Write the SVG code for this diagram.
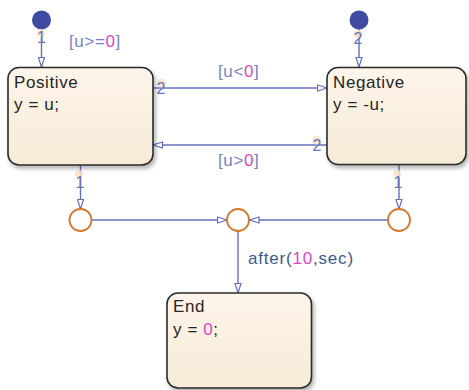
<svg xmlns="http://www.w3.org/2000/svg" width="469" height="390" viewBox="0 0 469 390">
<style>
  .state rect { fill: url(#sg); stroke: #2b2b2b; stroke-width: 1.6; filter: url(#sh); }
  .st { font-family: "Liberation Sans", Arial, sans-serif; font-size: 17px; letter-spacing: 0.6px; fill: #262626; }
  .lbl { font-family: "Liberation Sans", Arial, sans-serif; font-size: 17px; letter-spacing: 0.6px; fill: #7a7fc6; }
  .lbl2 { font-family: "Liberation Sans", Arial, sans-serif; font-size: 17px; letter-spacing: 0.8px; fill: #3d5a8e; }
  .num { font-family: "Liberation Sans", Arial, sans-serif; font-size: 16px; fill: #6a73bb; text-anchor: middle; }
  .mag { fill: #dd45c6; }
  .conn { stroke: #6470bb; stroke-width: 1.4; fill: none; }
  .arr { marker-end: url(#ah); }
  .junc { fill: #ffffff; stroke: #d3782e; stroke-width: 1.8; }
  .dot { fill: #3f4ba0; }
  .bg { fill: #fce3c6; opacity: 0.85; }
</style>
<defs>
  <linearGradient id="sg" x1="0" y1="0" x2="0" y2="1">
    <stop offset="0" stop-color="#fdf5ea"/>
    <stop offset="1" stop-color="#f7ebd7"/>
  </linearGradient>
  <filter id="sh" x="-10%" y="-10%" width="125%" height="130%">
    <feDropShadow dx="2" dy="3" stdDeviation="2" flood-color="#000" flood-opacity="0.3"/>
  </filter>
  <marker id="ah" viewBox="0 0 11 8" refX="10.5" refY="4" markerWidth="11" markerHeight="8" markerUnits="userSpaceOnUse" orient="auto">
    <path d="M1,1 L10.5,4 L1,7 Z" fill="#ffffff" stroke="#6470bb" stroke-width="1.2"/>
  </marker>
</defs>

<g id="connectors">
  <circle class="dot" cx="41.5" cy="20" r="9.5"/>
  <circle class="dot" cx="359" cy="20" r="9.5"/>
  <line class="conn arr" x1="41.5" y1="29" x2="41.5" y2="67"/>
  <line class="conn arr" x1="359" y1="29" x2="359" y2="67"/>
  <line class="conn arr" x1="153" y1="88" x2="327" y2="88"/>
  <line class="conn arr" x1="327" y1="145" x2="153" y2="145"/>
  <line class="conn arr" x1="80.5" y1="165" x2="80.5" y2="209"/>
  <line class="conn arr" x1="399" y1="165" x2="399" y2="209"/>
  <line class="conn arr" x1="92" y1="220" x2="227" y2="220"/>
  <line class="conn arr" x1="387.5" y1="220" x2="249.5" y2="220"/>
  <line class="conn arr" x1="238" y1="231" x2="238" y2="293"/>

  <circle class="bg" cx="41" cy="33" r="4"/>
  <text class="num" x="41.5" y="43">1</text>
  <circle class="bg" cx="358" cy="34" r="4"/>
  <text class="num" x="358" y="44">2</text>
  <text class="lbl" x="69" y="47">[u&gt;=<tspan class="mag">0</tspan>]</text>

  <circle class="bg" cx="162" cy="83" r="4.5"/>
  <text class="num" x="161" y="94">2</text>
  <text class="lbl" x="218" y="77">[u&lt;<tspan class="mag">0</tspan>]</text>

  <circle class="bg" cx="317" cy="140" r="4.5"/>
  <text class="num" x="317" y="151">2</text>
  <text class="lbl" x="218" y="166">[u&gt;<tspan class="mag">0</tspan>]</text>

  <circle class="bg" cx="79" cy="174" r="4"/>
  <text class="num" x="80" y="188">1</text>
  <circle class="bg" cx="397" cy="174" r="4"/>
  <text class="num" x="398" y="188">1</text>

  <text class="lbl2" x="248" y="264">after(<tspan class="mag">10</tspan>,sec)</text>
</g>

<g id="j1"><circle class="junc" cx="80.5" cy="220" r="11"/></g>
<g id="j2"><circle class="junc" cx="238" cy="220" r="11"/></g>
<g id="j3"><circle class="junc" cx="399" cy="220" r="11"/></g>

<g id="Positive" class="state">
  <rect x="8" y="67.5" width="145" height="97.5" rx="11"/>
  <text class="st" x="14" y="88">Positive</text>
  <text class="st" x="14" y="110">y = u;</text>
</g>

<g id="Negative" class="state">
  <rect x="327" y="67.5" width="139" height="97" rx="11"/>
  <text class="st" x="333" y="88">Negative</text>
  <text class="st" x="333" y="110">y = -u;</text>
</g>

<g id="End" class="state">
  <rect x="167" y="293" width="144.5" height="95" rx="11"/>
  <text class="st" x="173" y="312">End</text>
  <text class="st" x="173" y="335">y = <tspan class="mag">0</tspan>;</text>
</g>
</svg>
